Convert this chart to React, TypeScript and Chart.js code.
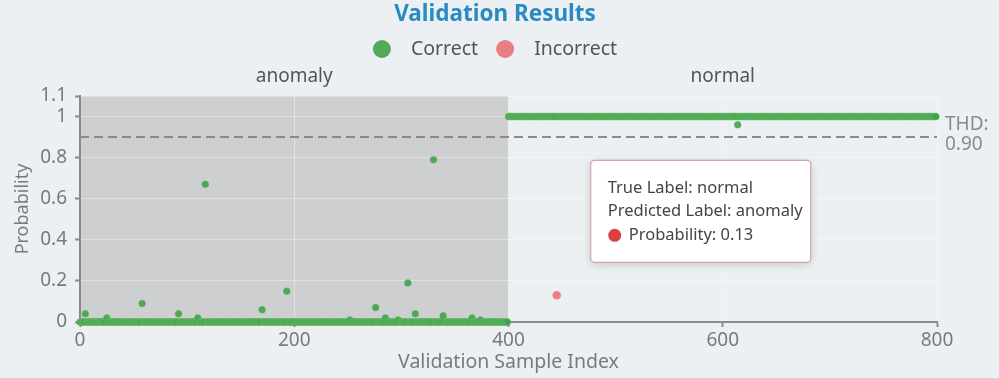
import React, { useEffect, useRef } from "react";
import { Chart, registerables } from "chart.js";

Chart.register(...registerables);

// ---------- data ----------
const SAMPLE_COUNT = 800;
const CLASS_SPLIT = 400;
const CLASS_NAMES = ["anomaly", "normal"];
const CLASS_CENTERS = [200, 600];
const CLASS_BASE_PROB = [0, 1];
const CORRECT_OUTLIER_INDEX = [5, 25, 58, 92, 110, 117, 170, 193, 252, 276, 285, 297, 306, 313, 330, 339, 366, 374, 614];
const CORRECT_OUTLIER_PROB = [0.04, 0.02, 0.09, 0.04, 0.02, 0.67, 0.06, 0.15, 0.01, 0.07, 0.02, 0.01, 0.19, 0.04, 0.79, 0.03, 0.02, 0.01, 0.96];
const INCORRECT_INDEX = [445];
const INCORRECT_PROB = [0.13];
const THRESHOLD = 0.9;
const X_TICKS = [0, 200, 400, 600, 800];
const Y_TICKS = [0, 0.2, 0.4, 0.6, 0.8, 1, 1.1];
const LEGEND_LABELS = ["Correct", "Incorrect"];
const TITLE = "Validation Results";

const FONT = "'Noto Sans', 'Open Sans', sans-serif";
const BG = "#edf0f3";
const GREEN = "rgba(66,160,72,0.9)";
const GREEN_BORDER = "rgba(120,200,120,0.6)";
const RED = "rgba(232,112,118,0.9)";
const RED_BORDER = "rgba(240,150,155,0.8)";

function buildCorrect() {
  const pts: { x: number; y: number }[] = [];
  for (let i = 0; i < SAMPLE_COUNT; i++) {
    if (INCORRECT_INDEX.includes(i)) continue;
    const k = CORRECT_OUTLIER_INDEX.indexOf(i);
    const cls = i < CLASS_SPLIT ? 0 : 1;
    pts.push({ x: i, y: k >= 0 ? CORRECT_OUTLIER_PROB[k] : CLASS_BASE_PROB[cls] });
  }
  return pts;
}

const bgPlugin = {
  id: "bgRegion",
  beforeDraw(chart: any) {
    const { ctx, chartArea } = chart;
    const xs = chart.scales.x;
    ctx.save();
    ctx.fillStyle = BG;
    ctx.fillRect(0, 0, chart.width, chart.height);
    const x0 = xs.getPixelForValue(0);
    const x1 = xs.getPixelForValue(CLASS_SPLIT);
    ctx.fillStyle = "#cdcfd1";
    ctx.fillRect(x0, chartArea.top, x1 - x0, chartArea.bottom - chartArea.top);
    ctx.restore();
  },
};

const overlayPlugin = {
  id: "overlay",
  afterDraw(chart: any) {
    const { ctx, chartArea } = chart;
    const xs = chart.scales.x;
    const ys = chart.scales.y;
    ctx.save();
    // title
    ctx.fillStyle = "#2a8ac2";
    ctx.font = `bold 22.5px ${FONT}`;
    ctx.textAlign = "center";
    ctx.textBaseline = "middle";
    ctx.fillText(TITLE, 495, 15);

    // threshold label
    const ty = ys.getPixelForValue(THRESHOLD);
    ctx.fillStyle = "#8a8a8a";
    ctx.font = `19px ${FONT}`;
    ctx.textAlign = "left";
    ctx.fillText("THD:", chartArea.right + 8, ty - 12);
    ctx.fillText(THRESHOLD.toFixed(2), chartArea.right + 8, ty + 8);

    // legend
    const ly = 49;
    ctx.font = `19.5px ${FONT}`;
    const widths = LEGEND_LABELS.map((t) => ctx.measureText(t).width);
    const r = 9;
    const textGap = 29; // circle centre to text
    const between = 27; // text end to next circle centre
    const total = r + textGap + widths[0] + between + textGap + widths[1];
    let x = 495 - total / 2 + r; // first circle centre
    const colors = [GREEN, RED];
    for (let i = 0; i < 2; i++) {
      ctx.beginPath();
      ctx.arc(x, ly, r, 0, Math.PI * 2);
      ctx.fillStyle = colors[i];
      ctx.fill();
      ctx.fillStyle = "#555";
      ctx.fillText(LEGEND_LABELS[i], x + textGap, ly);
      x += textGap + widths[i] + between;
    }

    // tooltip
    const px = xs.getPixelForValue(INCORRECT_INDEX[0]);
    const py = ys.getPixelForValue(INCORRECT_PROB[0]);
    const bl = px + 34;
    const bw = 220;
    const bh = 102;
    const bt = py - 33 - bh;
    ctx.shadowColor = "rgba(0,0,0,0.18)";
    ctx.shadowBlur = 8;
    ctx.shadowOffsetY = 2;
    ctx.beginPath();
    (ctx as any).roundRect(bl, bt, bw, bh, 4);
    ctx.fillStyle = "#ffffff";
    ctx.fill();
    ctx.shadowColor = "transparent";
    ctx.shadowBlur = 0;
    ctx.shadowOffsetY = 0;
    ctx.strokeStyle = "#d9a3a3";
    ctx.lineWidth = 1.2;
    ctx.stroke();
    ctx.fillStyle = "#444";
    ctx.font = `16.5px ${FONT}`;
    ctx.textBaseline = "middle";
    ctx.fillText(`True Label: ${CLASS_NAMES[1]}`, bl + 17, bt + 28);
    ctx.fillText(`Predicted Label: ${CLASS_NAMES[0]}`, bl + 17, bt + 51);
    ctx.beginPath();
    ctx.arc(bl + 24, bt + 75, 6.5, 0, Math.PI * 2);
    ctx.fillStyle = "#d94040";
    ctx.fill();
    ctx.fillStyle = "#444";
    ctx.fillText(`Probability: ${INCORRECT_PROB[0].toFixed(2)}`, bl + 38, bt + 75);
    ctx.restore();
  },
};

export default function App() {
  const ref = useRef<HTMLCanvasElement>(null);
  useEffect(() => {
    document.body.style.margin = "0";
    document.body.style.background = BG;
    const canvas = ref.current!;
    const chart = new Chart(canvas, {
      type: "scatter",
      data: {
        datasets: [
          {
            label: "Threshold",
            type: "line",
            data: [
              { x: 0, y: THRESHOLD },
              { x: SAMPLE_COUNT, y: THRESHOLD },
            ],
            borderColor: "#8a8a8a",
            borderWidth: 2,
            borderDash: [9, 5],
            pointRadius: 0,
            fill: false,
          } as any,
          {
            label: LEGEND_LABELS[0],
            data: buildCorrect(),
            backgroundColor: GREEN,
            borderColor: GREEN_BORDER,
            borderWidth: 0.6,
            pointRadius: 3.5,
            clip: false,
          } as any,
          {
            label: LEGEND_LABELS[1],
            data: INCORRECT_INDEX.map((x, i) => ({ x, y: INCORRECT_PROB[i] })),
            backgroundColor: RED,
            borderColor: RED_BORDER,
            borderWidth: 1,
            pointRadius: 4,
            clip: false,
          } as any,
        ],
      },
      options: {
        animation: false,
        responsive: false,
        layout: { padding: { left: 0, right: 62, top: 0, bottom: 0 } },
        plugins: {
          legend: { display: false },
          tooltip: { enabled: false },
          title: { display: false },
        },
        scales: {
          x: {
            type: "linear",
            position: "bottom",
            min: 0,
            max: SAMPLE_COUNT,
            afterBuildTicks: (s: any) => {
              s.ticks = X_TICKS.map((v) => ({ value: v }));
            },
            afterFit: (s: any) => {
              s.height = 56;
            },
            ticks: { color: "#7a7a7a", font: { family: FONT, size: 19 }, padding: 2, maxRotation: 0 },
            grid: { color: "rgba(255,255,255,0.35)", tickColor: "#8a8a8a", tickLength: 5, tickWidth: 2 },
            border: { color: "#8a8a8a", width: 2 },
            title: {
              display: true,
              text: "Validation Sample Index",
              color: "#7a7a7a",
              font: { family: FONT, size: 19.5 },
              padding: { top: 0, bottom: 4 },
            },
          },
          x2: {
            type: "linear",
            position: "top",
            min: 0,
            max: SAMPLE_COUNT,
            afterBuildTicks: (s: any) => {
              s.ticks = CLASS_CENTERS.map((v) => ({ value: v }));
            },
            afterFit: (s: any) => {
              s.height = 96;
            },
            ticks: {
              color: "#555",
              font: { family: FONT, size: 19 },
              padding: 8,
              maxRotation: 0,
              callback: (v: any) => CLASS_NAMES[CLASS_CENTERS.indexOf(Number(v))] ?? "",
            },
            grid: { display: false, drawTicks: false },
            border: { display: false },
          },
          y: {
            type: "linear",
            min: 0,
            max: 1.1,
            afterBuildTicks: (s: any) => {
              s.ticks = Y_TICKS.map((v) => ({ value: v }));
            },
            afterFit: (s: any) => {
              s.width = 80;
            },
            ticks: {
              color: "#7a7a7a",
              font: { family: FONT, size: 19 },
              padding: 8,
              callback: (v: any) => String(Number(v)),
            },
            grid: { color: "rgba(255,255,255,0.35)", tickColor: "#8a8a8a", tickLength: 5, tickWidth: 2 },
            border: { color: "#8a8a8a", width: 2 },
            title: {
              display: true,
              text: "Probability",
              color: "#7a7a7a",
              font: { family: FONT, size: 18 },
              padding: { top: 12, bottom: 0 },
            },
          },
        },
      },
      plugins: [bgPlugin, overlayPlugin],
    });
    return () => chart.destroy();
  }, []);
  return (
    <div style={{ position: "absolute", left: 0, top: 0, width: 999, height: 378, background: BG }}>
      <canvas ref={ref} width={999} height={378} />
    </div>
  );
}
